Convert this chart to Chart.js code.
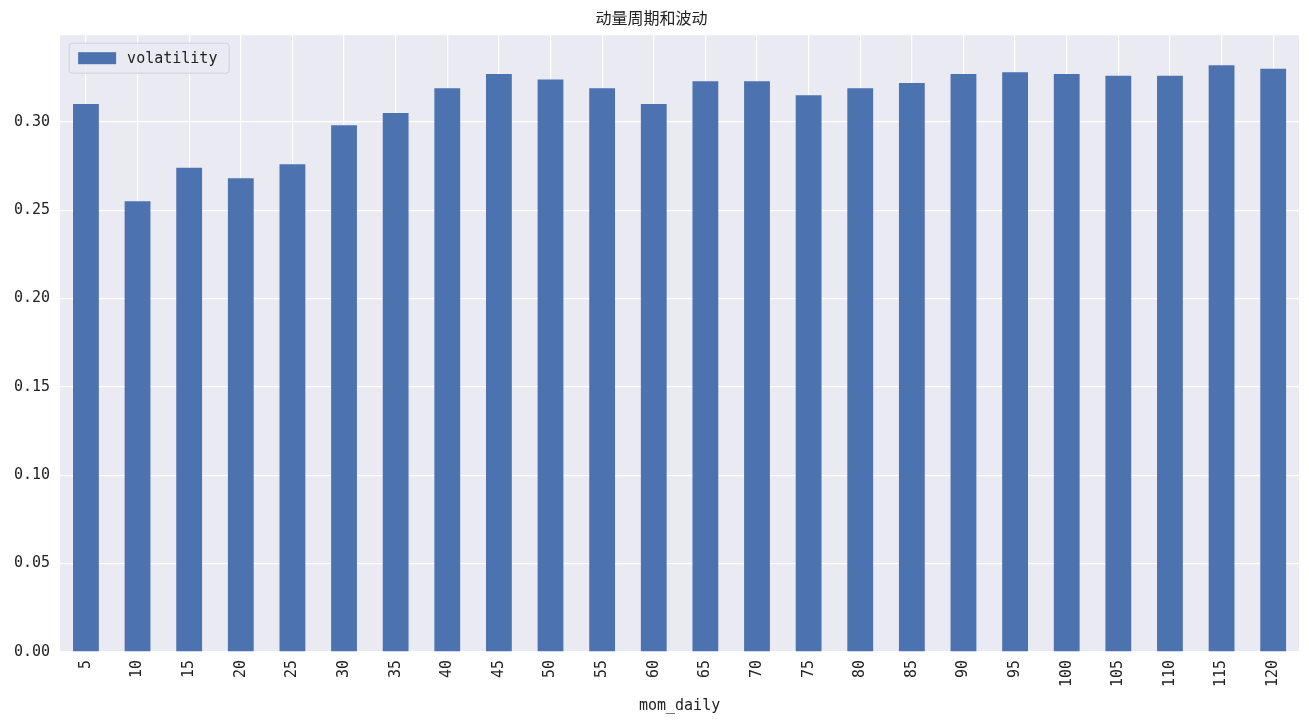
<!DOCTYPE html>
<html><head><meta charset="utf-8">
<script src="https://cdn.jsdelivr.net/npm/chart.js@4/dist/chart.umd.min.js"></script>
<style>body{margin:0;background:#fff}#wrap{width:1309px;height:723px}</style>
</head><body><div id="wrap"><canvas id="c"></canvas></div>
<script>
const categories = ["5","10","15","20","25","30","35","40","45","50","55","60","65","70","75","80","85","90","95","100","105","110","115","120"];
const volatility = [0.310,0.255,0.274,0.268,0.276,0.298,0.305,0.319,0.327,0.324,0.319,0.310,0.323,0.323,0.315,0.319,0.322,0.327,0.328,0.327,0.326,0.326,0.332,0.330];
const yTicks = [0,0.05,0.1,0.15,0.2,0.25,0.3];
const mono = "'DejaVu Sans Mono', monospace";

// grey plot background + legend box inside the plot
const decor = {
  id: "decor",
  beforeDraw(chart) {
    const { ctx, chartArea: a } = chart;
    ctx.save();
    ctx.fillStyle = "#EAEAF2";
    ctx.fillRect(a.left, a.top, a.right - a.left, a.bottom - a.top);
    ctx.restore();
  },
  afterDraw(chart) {
    const { ctx, chartArea: a } = chart;
    ctx.save();
    const x = a.left + 9, y = a.top + 8;
    ctx.fillStyle = "rgba(234,234,242,0.8)";
    ctx.strokeStyle = "#d0d0d8";
    ctx.beginPath();
    ctx.roundRect(x, y, 160, 30, 3);
    ctx.fill(); ctx.stroke();
    ctx.fillStyle = "#4C72B0";
    ctx.fillRect(x + 9, y + 9, 38, 12);
    ctx.fillStyle = "#222";
    ctx.font = "15px " + mono;
    ctx.textBaseline = "middle";
    ctx.fillText("volatility", x + 58, y + 16);
    ctx.restore();
  }
};

new Chart(document.getElementById("c"), {
  type: "bar",
  data: {
    labels: categories,
    datasets: [{ label: "volatility", data: volatility, backgroundColor: "#4C72B0",
      categoryPercentage: 1, barPercentage: 0.5 }]
  },
  options: {
    responsive: true, maintainAspectRatio: false, animation: false,
    layout: { padding: { left: 4, right: 10, top: 4, bottom: 4 } },
    plugins: {
      legend: { display: false },
      tooltip: { enabled: false },
      title: { display: true, text: "动量周期和波动", color: "#222",
        font: { size: 16, family: "'Noto Sans CJK SC'", weight: "normal" }, padding: { top: 4, bottom: 8 } }
    },
    scales: {
      x: {
        grid: { color: "#fff", lineWidth: 1.2, offset: false, drawTicks: false },
        border: { display: false },
        ticks: { color: "#222", font: { size: 15, family: mono }, maxRotation: 90, minRotation: 90, padding: 8 },
        title: { display: true, text: "mom_daily", color: "#222", font: { size: 15, family: mono }, padding: { top: 2 } }
      },
      y: {
        min: 0, max: 0.349,
        afterBuildTicks: (ax) => { ax.ticks = yTicks.map(v => ({ value: v })); },
        grid: { color: "#fff", lineWidth: 1.2, drawTicks: false },
        border: { display: false },
        ticks: { color: "#222", font: { size: 15, family: mono }, padding: 10, callback: v => v.toFixed(2) }
      }
    }
  },
  plugins: [decor]
});
</script></body></html>
